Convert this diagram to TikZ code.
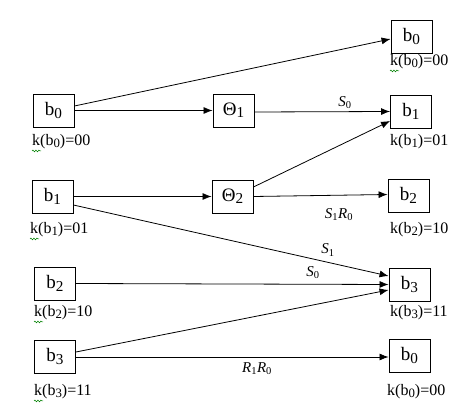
\documentclass[tikz,border=0pt]{standalone}
\usepackage{fontspec}
\setmainfont{Liberation Serif}
\usetikzlibrary{arrows.meta,decorations.pathmorphing}
\newcommand{\sbs}[1]{\raisebox{-0.12em}{\scalebox{0.8}{#1}}}
\begin{document}
\begin{tikzpicture}[x=1pt,y=-1pt,
  box/.style={draw,line width=0.9pt,minimum width=41pt,minimum height=33pt,inner sep=0pt,font=\fontsize{19}{21}\selectfont},
  klab/.style={anchor=west,inner sep=0pt,font=\fontsize{16}{18}\selectfont},
  elab/.style={inner sep=0pt,font=\fontsize{15}{17}\selectfont},
  arr/.style={line width=0.8pt,-{Latex[length=9pt,width=7pt]}},
  squig/.style={draw=green!50!black,line width=0.5pt,decorate,decoration={snake,amplitude=0.9pt,segment length=3pt}}]
\useasboundingbox (0,0) rectangle (475,417);
% left column
\node[box] (lb0) at (53.5,110.5) {b\sbs{0}};
\node[box] (lb1) at (52.5,196.5) {b\sbs{1}};
\node[box] (lb2) at (55,283.5) {b\sbs{2}};
\node[box] (lb3) at (55,356.5) {b\sbs{3}};
% middle
\node[box] (t1) at (233.5,110.5) {Θ\sbs{1}};
\node[box] (t2) at (232.5,196.5) {Θ\sbs{2}};
% right column
\node[box] (rb0a) at (411.5,36.5) {b\sbs{0}};
\node[box] (rb1) at (411,111.5) {b\sbs{1}};
\node[box] (rb2) at (408.5,195.5) {b\sbs{2}};
\node[box] (rb3) at (409.5,284.5) {b\sbs{3}};
\node[box] (rb0b) at (409.5,355.5) {b\sbs{0}};
% k labels
\node[klab] (kl0) at (32,142) {k(b\sbs{0})=00};
\node[klab] (kl1) at (30,230) {k(b\sbs{1})=01};
\node[klab] (kl2) at (34,313) {k(b\sbs{2})=10};
\node[klab] (kl3) at (34,392) {k(b\sbs{3})=11};
\node[klab] (kr0a) at (390,62) {k(b\sbs{0})=00};
\node[klab] (kr1) at (390,142) {k(b\sbs{1})=01};
\node[klab] (kr2) at (390,230) {k(b\sbs{2})=10};
\node[klab] (kr3) at (390,313) {k(b\sbs{3})=11};
\node[klab] (kr0b) at (387,392) {k(b\sbs{0})=00};
% spell-check squiggles
\foreach \n in {kl0,kl1,kl2,kl3,kr0a}{
  \draw[squig] ([yshift=-1.5pt]\n.south west) -- ++(9,0);
}
% connectors
\draw[arr] ([yshift=4.5pt]lb0.east) -- ([yshift=-2.5pt]rb0a.west);
\draw[arr] (lb0.east) -- (t1.west);
\draw[arr] ([yshift=-1.5pt]t1.east) -- (rb1.west);
\draw[arr] ([yshift=9.5pt]t2.east) -- ([yshift=-9.5pt]rb1.west);
\draw[arr] (t2.east) -- ([yshift=1pt]rb2.west);
\draw[arr] (lb1.east) -- (t2.west);
\draw[arr] ([yshift=-8.5pt]lb1.east) -- ([yshift=8.5pt]rb3.west);
\draw[arr] (lb2.east) -- (rb3.west);
\draw[arr] ([yshift=4.5pt]lb3.east) -- ([yshift=-5.5pt]rb3.west);
\draw[arr] ([yshift=-0.5pt]lb3.east) -- ([yshift=-1.5pt]rb0b.west);
% edge labels
\node[elab] (e1) at (345,103) {\textit{S}\textsubscript{0}};
\node[elab] (e2) at (339,215) {\textit{S}\textsubscript{1}\textit{R}\textsubscript{0}};
\node[elab] (e3) at (328,250) {\textit{S}\textsubscript{1}};
\node[elab] (e4) at (313,273) {\textit{S}\textsubscript{0}};
\node[elab] (e5) at (257,369) {\textit{R}\textsubscript{1}\textit{R}\textsubscript{0}};
\end{tikzpicture}
\end{document}
